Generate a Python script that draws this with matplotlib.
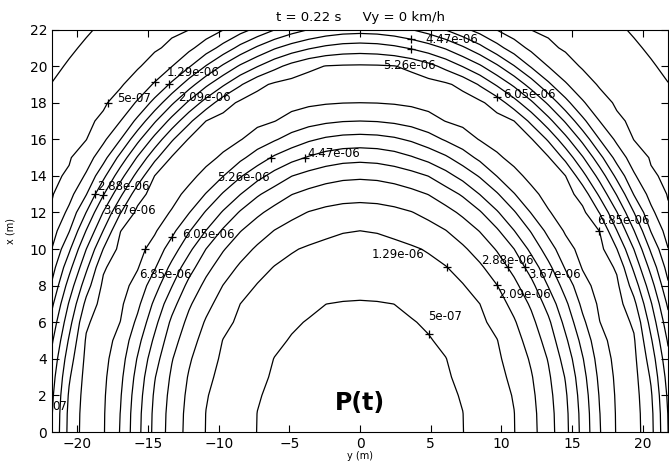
import numpy as np
import matplotlib
matplotlib.use("Agg")
import matplotlib.pyplot as plt

# grid of the computation (m): x along the track, y across it
x_nodes = np.arange(0, 22.5, 1)
y_nodes = np.linspace(-21.8, 21.8, 37)

# radial profile of P (units of 1e-6)
prof_r = [0, 4, 7.4, 11.0, 12.6, 13.85, 14.8, 15.5, 16.3, 17.0, 18.0, 19.2,
          20.2, 20.75, 21.25, 21.8, 22.3, 22.8, 23.3, 24.0, 25.0, 27.0, 29.0, 31.2]
prof_p = [0.05, 0.22, 0.5, 1.29, 2.09, 2.88, 3.67, 4.47, 5.26, 6.05, 6.85, 7.3,
          6.85, 6.05, 5.26, 4.47, 3.67, 2.88, 2.09, 1.29, 0.5, 0.25, 0.5, 0.8]

levels = [5e-07, 1.29e-06, 2.09e-06, 2.88e-06, 3.67e-06,
          4.47e-06, 5.26e-06, 6.05e-06, 6.85e-06]

# contour labels: level index, rough marker spot (y, x), text spot (y, x)
lab_level = [5, 6, 7, 8, 1, 2, 0, 3, 4, 6, 5, 7, 8, 1, 3, 4, 2, 0]
lab_mark = [(3.8, 21.6), (3.8, 21.05), (10.0, 18.2), (16.6, 11.2),
            (-13.9, 19.3), (-13.6, 18.8), (-17.4, 17.9), (-18.7, 13.0),
            (-18.1, 12.9), (-6.2, 14.7), (-3.8, 14.9), (-12.9, 10.4),
            (-14.6, 9.5), (6.4, 9.4), (10.6, 9.1), (10.8, 8.9),
            (10.0, 8.3), (4.8, 5.9)]
lab_text = [(4.6, 21.45), (1.6, 20.05), (10.1, 18.45), (16.8, 11.55),
            (-13.7, 19.65), (-12.9, 18.3), (-17.2, 18.25), (-18.6, 13.4),
            (-18.2, 12.1), (-10.1, 13.9), (-3.7, 15.2), (-12.6, 10.8),
            (-15.6, 8.6), (0.8, 9.7), (8.6, 9.4), (11.9, 8.6),
            (9.8, 7.5), (4.8, 6.3)]

Y, X = np.meshgrid(y_nodes, x_nodes)
R = np.hypot(X, Y)
P = np.interp(R, prof_r, prof_p) * 1e-6

fig = plt.figure(figsize=(6.69, 4.61), dpi=100)
ax = fig.add_axes([0.0777, 0.0629, 0.921, 0.873])

cs = ax.contour(Y, X, P, levels=levels, colors='k', linewidths=0.9)


def snap(segs, p):
    best, bd = p, np.inf
    for s in segs:
        if len(s) == 0:
            continue
        d = np.hypot(s[:, 0] - p[0], s[:, 1] - p[1])
        i = d.argmin()
        if d[i] < bd:
            bd = d[i]
            best = s[i]
    return best


for k, m, t in zip(lab_level, lab_mark, lab_text):
    py, px = snap(cs.allsegs[k], m)
    ax.plot(py, px, '+', color='k', ms=6, mew=0.9)
    ax.text(t[0], t[1], '%.3g' % levels[k], fontsize=8.5,
            ha='left', va='center')

# label cut by the left edge: only its last digits show
ax.text(-20.7, 1.4, ('%.3g' % levels[0])[-2:], fontsize=8.5, ha='right',
        va='center', clip_on=True)

ax.text(0, 1.6, 'P(t)', fontsize=17, fontweight='bold', ha='center', va='center')

ax.set_xlim(-21.8, 21.8)
ax.set_ylim(0, 22)
ax.set_xticks(np.arange(-20, 21, 5))
ax.set_yticks(np.arange(0, 23, 2))
ax.tick_params(direction='in', top=True, right=True, length=5, labelsize=10)
ax.set_title('t = 0.22 s     Vy = 0 km/h', fontsize=9.5, pad=6)
ax.set_xlabel('y (m)', fontsize=7, labelpad=0)
ax.set_ylabel('x (m)', fontsize=7, labelpad=10)

fig.savefig('out.png', dpi=100)
